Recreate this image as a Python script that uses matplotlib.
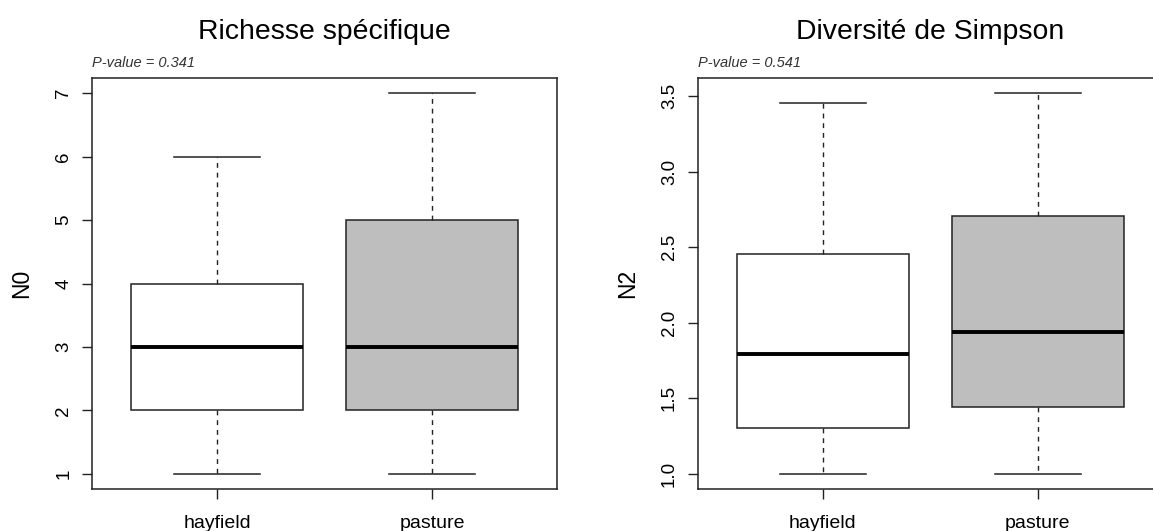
import matplotlib
matplotlib.use("Agg")
from matplotlib import pyplot as plt

groups = ["hayfield", "pasture"]
fills = ["white", "#BEBEBE"]

# five-number summaries per group: min, q1, median, q3, max
n0_stats = [[1, 2, 3, 4, 6], [1, 2, 3, 5, 7]]
n2_stats = [[1.0, 1.305, 1.796, 2.453, 3.457], [1.0, 1.44, 1.936, 2.71, 3.52]]

titles = ["Richesse spécifique", "Diversité de Simpson"]
ylabels = ["N0", "N2"]
pvalues = ["P-value = 0.341", "P-value = 0.541"]
yticks = [[1, 2, 3, 4, 5, 6, 7], [1.0, 1.5, 2.0, 2.5, 3.0, 3.5]]
yticklabels = [["1", "2", "3", "4", "5", "6", "7"],
               ["1.0", "1.5", "2.0", "2.5", "3.0", "3.5"]]

plt.rcParams["font.family"] = ["Liberation Sans", "DejaVu Sans"]
fig = plt.figure(figsize=(11.53, 5.31), dpi=100)

lc = "#222222"
positions = [(0.0801, 0.0791, 0.4028, 0.774), (0.6054, 0.0791, 0.4028, 0.774)]

for i, stats in enumerate([n0_stats, n2_stats]):
    ax = fig.add_axes(positions[i])
    bstats = []
    for g, s in zip(groups, stats):
        bstats.append(dict(label=g, whislo=s[0], q1=s[1], med=s[2], q3=s[3], whishi=s[4], fliers=[]))
    bp = ax.bxp(bstats, positions=[1, 2], widths=0.8, capwidths=0.4, patch_artist=True,
                showfliers=False,
                boxprops=dict(edgecolor=lc, linewidth=1.1),
                medianprops=dict(color="black", linewidth=2.8, solid_capstyle="butt"),
                whiskerprops=dict(color=lc, linewidth=1.0, linestyle=(0, (3.5, 3.5))),
                capprops=dict(color=lc, linewidth=1.1))
    for patch, c in zip(bp["boxes"], fills):
        patch.set_facecolor(c)

    lo, hi = min(s[0] for s in stats), max(s[4] for s in stats)
    pad = (hi - lo) * 0.04
    ax.set_ylim(lo - pad, hi + pad)
    ax.set_xlim(0.42, 2.58)

    ax.set_yticks(yticks[i])
    ax.set_yticklabels(yticklabels[i], rotation=90, va="center", fontsize=13.5)
    ax.set_xticks([1, 2])
    ax.set_xticklabels(groups, fontsize=14)
    ax.tick_params(axis="both", length=7, width=1, color=lc, direction="out")
    ax.tick_params(axis="y", pad=7.5)
    ax.tick_params(axis="x", pad=12)
    for sp in ax.spines.values():
        sp.set_color(lc)
        sp.set_linewidth(1.1)

    ax.set_title(titles[i], fontsize=20.4, pad=28)
    ax.set_ylabel(ylabels[i], fontsize=16.5, labelpad=16)
    ax.text(0.0, 1.027, pvalues[i], transform=ax.transAxes, fontsize=10.5,
            style="italic", color="#333333", ha="left", va="baseline")

fig.savefig("out.png", dpi=100)
